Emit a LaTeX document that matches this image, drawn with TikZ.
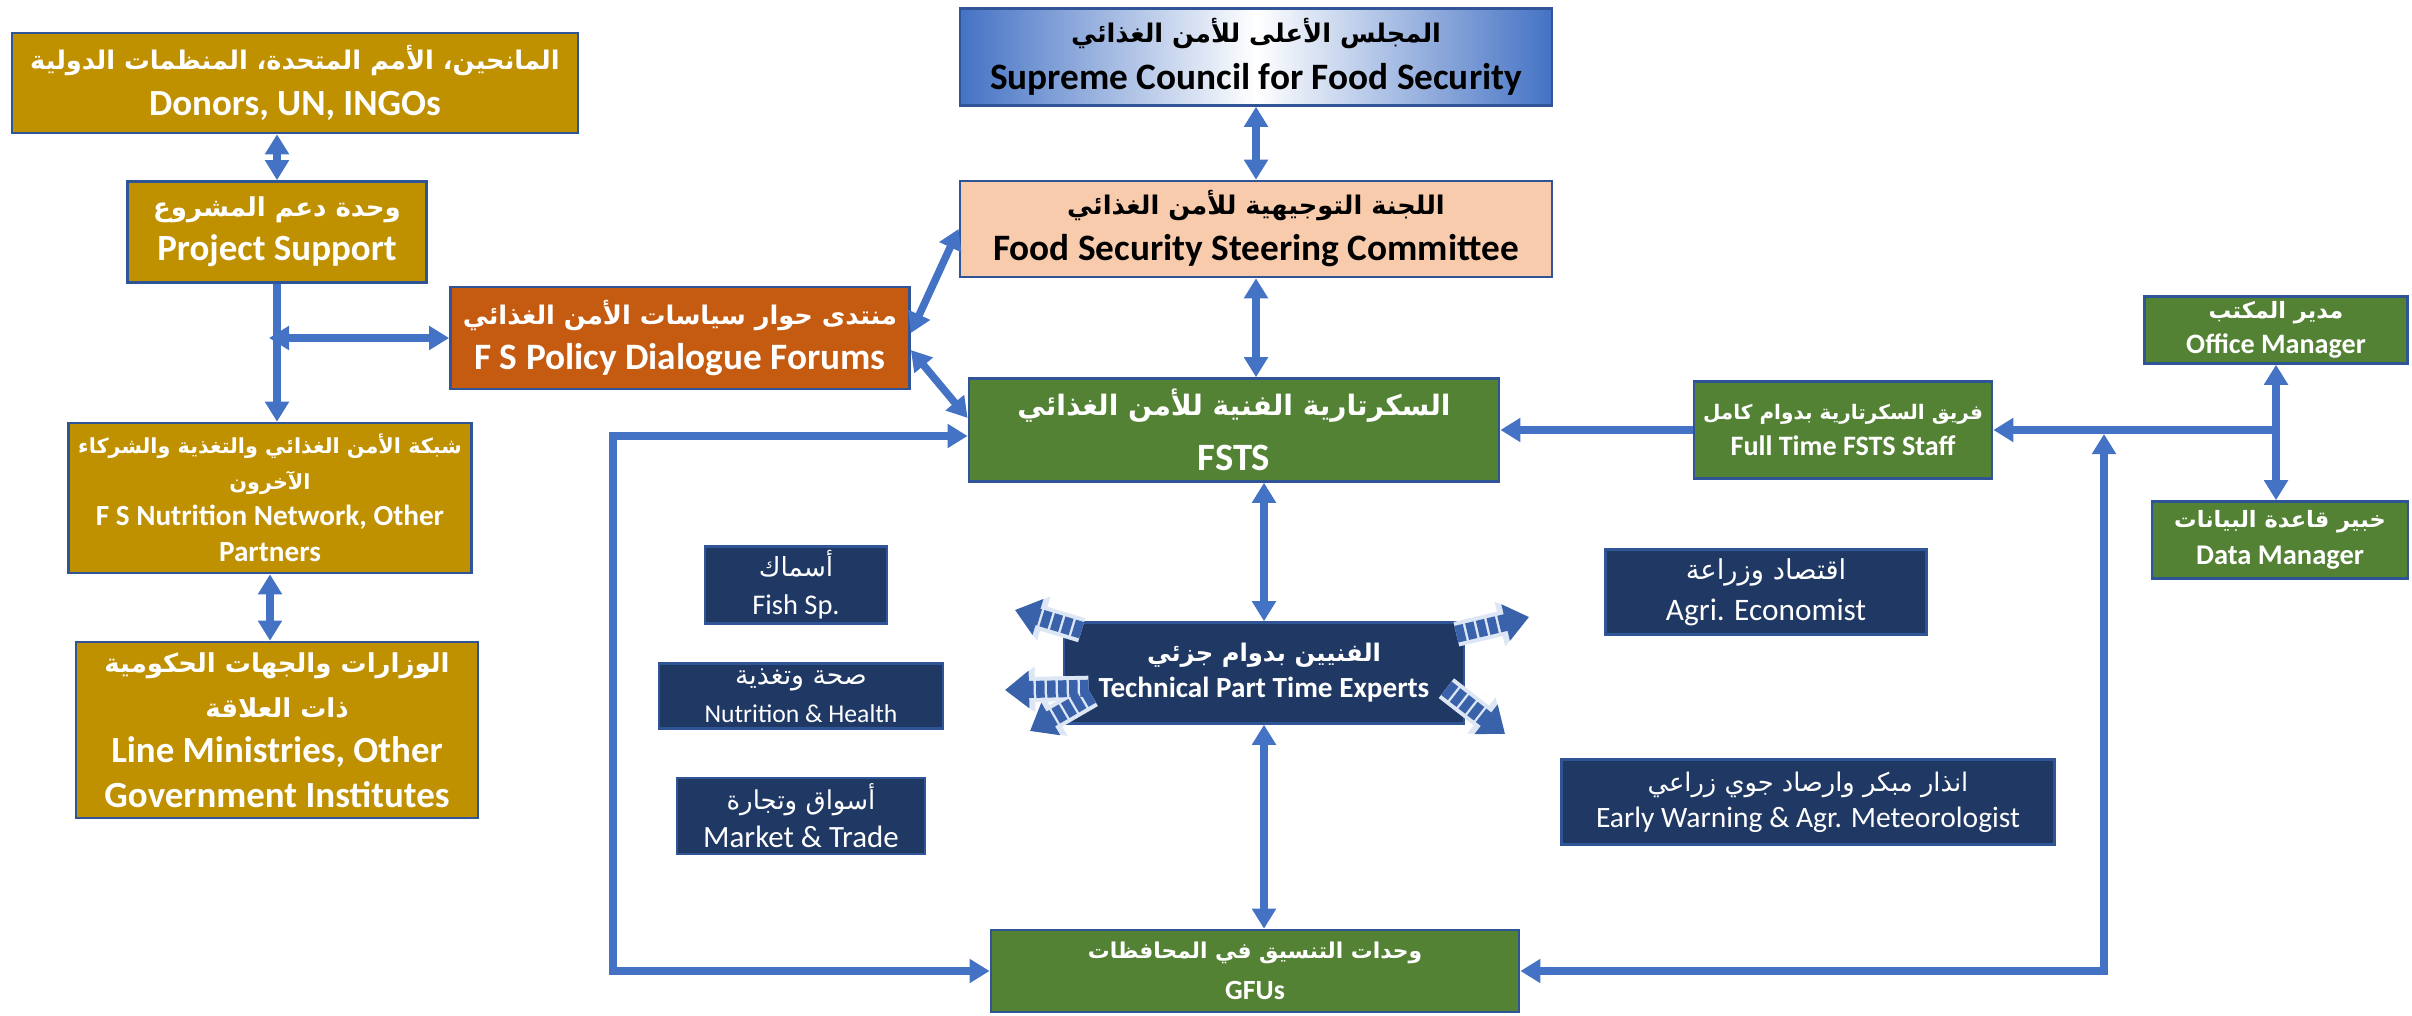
\documentclass[tikz,border=0pt]{standalone}
\usepackage{fontspec}
\setmainfont{Carlito}
\newfontfamily\arabicfont[Script=Arabic]{DejaVu Sans}
\TeXXeTstate=1
\usetikzlibrary{arrows.meta}

\definecolor{linkc}{HTML}{4472C4}
\definecolor{edgec}{HTML}{2F5597}
\definecolor{goldc}{HTML}{BF9000}
\definecolor{rustc}{HTML}{C55A11}
\definecolor{leafc}{HTML}{548235}
\definecolor{navyc}{HTML}{203864}
\definecolor{peachc}{HTML}{F8CBAD}
\definecolor{burstc}{HTML}{3A62AA}

% arabic font at a given size
\newcommand{\arb}[1]{\arabicfont\fontsize{#1}{12}\selectfont}

\begin{document}
\begin{tikzpicture}[x=0.01cm, y=-0.01cm,
    box/.style={draw=edgec, line width=0.025cm, align=center, inner sep=0pt},
    heavy/.style 2 args={font=\bfseries\fontsize{#1}{#2}\selectfont},
    light/.style 2 args={font=\fontsize{#1}{#2}\selectfont},
    goldbox/.style={box, fill=goldc, text=white},
    rustbox/.style={box, fill=rustc, text=white},
    leafbox/.style={box, fill=leafc, text=white},
    navybox/.style={box, fill=navyc, text=white},
    link/.style={draw=linkc, line width=0.075cm, >={Triangle[width=0.23cm,length=0.2cm]}},
    burst/.style={draw=burstc, line width=0.17cm, dash pattern=on 0.085cm off 0.025cm,
      -{Triangle[width=0.36cm,length=0.24cm]}},
    halo/.style={draw=linkc!18, line width=0.25cm, -{Triangle[width=0.44cm,length=0.3cm]}}]
  \useasboundingbox (0,0) rectangle (2412,1016);

  % left column
  \node[goldbox, heavy={10.5}{13.1}, minimum width=5.66cm, minimum height=1cm] (donors) at (295,83)
    {{\arb{7.3}\beginR المانحين، الأمم المتحدة، المنظمات الدولية\endR}\\Donors, UN, INGOs};
  \node[goldbox, heavy={10.5}{12.5}, minimum width=2.99cm, minimum height=1.01cm] (support) at (277,232)
    {{\arb{7.4}\beginR وحدة دعم المشروع\endR}\\Project Support};
  \node[goldbox, heavy={8.3}{10.2}, minimum width=4.03cm, minimum height=1.5cm] (network) at (270,498)
    {{\arb{5.9}\beginR شبكة الأمن الغذائي والتغذية والشركاء\endR}\\{\arb{5.9}\beginR الآخرون\endR}\\F S Nutrition Network, Other\\Partners};
  \node[goldbox, heavy={10.5}{12.8}, minimum width=4.02cm, minimum height=1.76cm] (ministries) at (277,730)
    {{\arb{7.4}\beginR الوزارات والجهات الحكومية\endR}\\{\arb{7.4}\beginR ذات العلاقة\endR}\\Line Ministries, Other\\Government Institutes};
  \node[rustbox, heavy={10.6}{12.8}, minimum width=4.59cm, minimum height=1.02cm] (forum) at (680,338)
    {{\arb{7.3}\beginR منتدى حوار سياسات الأمن الغذائي\endR}\\F S Policy Dialogue Forums};

  % centre column
  \node[box, left color=linkc, right color=linkc, middle color=white, heavy={10.6}{13.4},
    minimum width=5.92cm, minimum height=0.97cm] (council) at (1256,57)
    {{\arb{7.3}\beginR المجلس الأعلى للأمن الغذائي\endR}\\Supreme Council for Food Security};
  \node[box, fill=peachc, heavy={10.6}{13.1}, minimum width=5.92cm, minimum height=0.96cm] (steering) at (1256,229)
    {{\arb{7.3}\beginR اللجنة التوجيهية للأمن الغذائي\endR}\\Food Security Steering Committee};
  \node[leafbox, heavy={11}{15.6}, minimum width=5.3cm, minimum height=1.03cm] (fsts) at (1234,430)
    {{\arb{8}\beginR السكرتارية الفنية للأمن الغذائي\endR}\\FSTS};
  \node[navybox, heavy={8.3}{10.2}, minimum width=4cm, minimum height=1.01cm] (tech) at (1264,673)
    {{\arb{6.9}\beginR الفنيين بدوام جزئي\endR}\\Technical Part Time Experts};
  \node[leafbox, heavy={7.9}{11.7}, minimum width=5.28cm, minimum height=0.82cm] (gfu) at (1255,971)
    {{\arb{6.2}\beginR وحدات التنسيق في المحافظات\endR}\\GFUs};

  % part time experts
  \node[navybox, light={8.1}{10.8}, minimum width=1.82cm, minimum height=0.77cm] (fish) at (796,585)
    {{\arb{7.5}\beginR أسماك\endR}\\Fish Sp.};
  \node[navybox, light={7.3}{10.8}, minimum width=2.84cm, minimum height=0.65cm] (health) at (801,696)
    {{\arb{7.6}\beginR صحة وتغذية\endR}\\Nutrition \& Health};
  \node[navybox, light={8.8}{10.8}, minimum width=2.48cm, minimum height=0.76cm] (market) at (801,816)
    {{\arb{7.4}\beginR أسواق وتجارة\endR}\\Market \& Trade};
  \node[navybox, light={8.9}{11.7}, minimum width=3.21cm, minimum height=0.85cm] (econ) at (1766,592)
    {{\arb{7.8}\beginR اقتصاد وزراعة\endR}\\Agri. Economist};
  \node[navybox, light={8.4}{10.2}, minimum width=4.93cm, minimum height=0.85cm] (warning) at (1808,802)
    {{\arb{7.3}\beginR انذار مبكر وارصاد جوي زراعي\endR}\\Early Warning \& Agr. Meteorologist};

  % full time staff
  \node[leafbox, heavy={8}{10.2}, minimum width=2.98cm, minimum height=0.97cm] (staff) at (1843,430)
    {{\arb{5.7}\beginR فريق السكرتارية بدوام كامل\endR}\\Full Time FSTS Staff};
  \node[leafbox, heavy={8}{10}, minimum width=2.63cm, minimum height=0.67cm] (office) at (2276,330)
    {{\arb{6.4}\beginR مدير المكتب\endR}\\Office Manager};
  \node[leafbox, heavy={8.1}{10.5}, minimum width=2.56cm, minimum height=0.77cm] (datam) at (2280,540)
    {{\arb{6.4}\beginR خبير قاعدة البيانات\endR}\\Data Manager};

  % connectors
  \coordinate (fork) at (support.south |- forum.west);
  \coordinate (loopL) at (613,700);
  \coordinate (loopR) at (2104,434);
  \coordinate (hub) at (office.south |- staff.east);

  \draw[link, <->] (support.north) -- (support.north |- donors.south);
  \draw[link, ->] (support.south) -- (support.south |- network.north);
  \draw[link, <->] ([xshift=-0.08cm]fork) -- (forum.west);
  \draw[link, <->] (network.south) -- (network.south |- ministries.north);
  \draw[link, <->] (council.south) -- (steering.north);
  \draw[link, <->] (steering.south) -- (steering.south |- fsts.north);
  \draw[link, <->] ([yshift=0.05cm]forum.east) -- (steering.west);
  \draw[link, <->] ([yshift=-0.12cm]forum.east) -- ([yshift=0.12cm]fsts.west);
  \draw[link, <->] (tech.north) -- (tech.north |- fsts.south);
  \draw[link, <->] (tech.south) -- (tech.south |- gfu.north);
  \draw[link, <->] ([yshift=-0.06cm]fsts.west) -| (loopL) |- (gfu.west);
  \draw[link, <->] (gfu.east) -| (loopR);
  \draw[link, ->] (staff.west) -- (fsts.east);
  \draw[link, ->] (hub) -- (staff.east);
  \draw[link, <->] (office.south) -- (office.south |- datam.north);

  % arrows bursting out of the experts box
  \coordinate (tipA) at (1015,610);
  \coordinate (tipB) at (1005,690);
  \coordinate (tipC) at (1030,731);
  \coordinate (tipD) at (1529,617);
  \coordinate (tipE) at (1505,734);
  \foreach \s/\t in {{(19,9)}/tipA, {(26,67)}/tipB, {(29,74)}/tipC}
    \draw[halo] ([shift={\s}]tech.north west) -- (\t);
  \foreach \s/\t in {{(-9,13)}/tipD, {(-19,67)}/tipE}
    \draw[halo] ([shift={\s}]tech.north east) -- (\t);
  \foreach \s/\t in {{(19,9)}/tipA, {(26,67)}/tipB, {(29,74)}/tipC}
    \draw[burst] ([shift={\s}]tech.north west) -- (\t);
  \foreach \s/\t in {{(-9,13)}/tipD, {(-19,67)}/tipE}
    \draw[burst] ([shift={\s}]tech.north east) -- (\t);
\end{tikzpicture}
\end{document}
